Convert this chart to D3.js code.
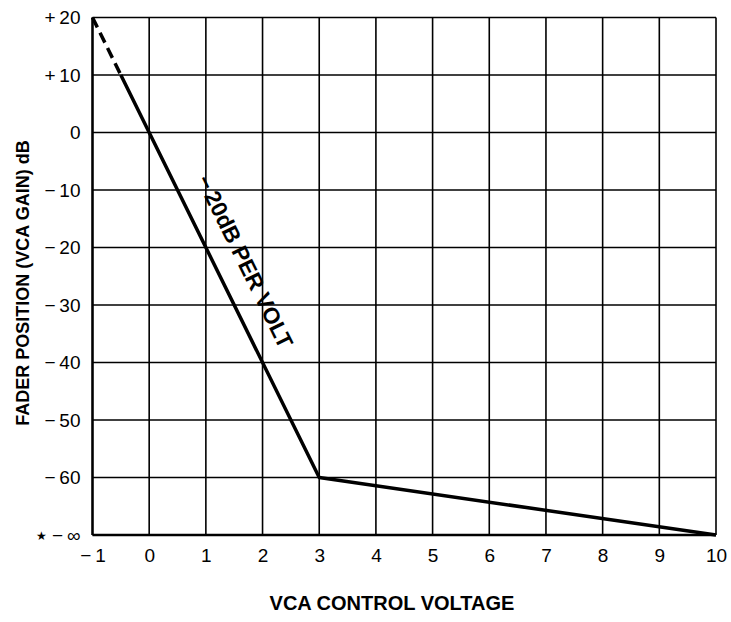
<!DOCTYPE html>
<html>
<head>
<meta charset="utf-8">
<script src="https://cdn.jsdelivr.net/npm/d3@7"></script>
<style>
  body { margin: 0; background: #fff; }
  svg { display: block; }
  text { font-family: "Liberation Sans", Arial, Helvetica, sans-serif; fill: #000; }
</style>
</head>
<body>
<svg id="chart" width="731" height="622"></svg>
<script>
// Control voltage ticks (volts) and gain levels (dB); the bottom row stands for −∞
const voltTicks = [-1, 0, 1, 2, 3, 4, 5, 6, 7, 8, 9, 10];
const voltLabels = ["\u2212\u20091", "0", "1", "2", "3", "4", "5", "6", "7", "8", "9", "10"];
const gainTicks = [20, 10, 0, -10, -20, -30, -40, -50, -60, -70];
const gainLabels = ["+\u200920", "+\u200910", "0", "\u2212\u200910", "\u2212\u200920", "\u2212\u200930", "\u2212\u200940", "\u2212\u200950", "\u2212\u200960", "\u2212\u2009\u221E"];

// Transfer curve: extrapolated (dashed) part, then −20 dB/V down to 3 V, then shallow tail to −∞ at 10 V
const dashedVolts = [-1, -0.5];
const dashedGain = [20, 10];
const solidVolts = [-0.5, 3, 10];
const solidGain = [10, -60, -70];

const FONT = "'Liberation Sans', Arial, Helvetica, sans-serif";
const svg = d3.select("#chart");
const x = d3.scaleLinear().domain([-1, 10]).range([92.5, 716]);
const y = d3.scaleLinear().domain([20, -70]).range([17.5, 535]);

// Grid
const grid = svg.append("g").attr("stroke", "#000").attr("stroke-width", 1.6);
grid.selectAll("line.v").data(voltTicks).join("line")
  .attr("x1", d => x(d)).attr("x2", d => x(d))
  .attr("y1", y(20)).attr("y2", y(-70));
grid.selectAll("line.h").data(gainTicks).join("line")
  .attr("x1", x(-1)).attr("x2", x(10))
  .attr("y1", d => y(d)).attr("y2", d => y(d));
// Heavier left and bottom frame
svg.append("line").attr("x1", x(-1)).attr("x2", x(-1)).attr("y1", y(20)).attr("y2", y(-70))
  .attr("stroke", "#000").attr("stroke-width", 2.4);
svg.append("line").attr("x1", x(-1)).attr("x2", x(10)).attr("y1", y(-70)).attr("y2", y(-70))
  .attr("stroke", "#000").attr("stroke-width", 2.4);

// Axes (labels only)
const xAxis = d3.axisBottom(x).tickValues(voltTicks).tickSize(0).tickPadding(14)
  .tickFormat((d, i) => voltLabels[i]);
const gx = svg.append("g").attr("transform", `translate(0,${y(-70)})`).call(xAxis);
gx.select(".domain").remove();
gx.attr("font-size", 19).attr("font-family", FONT);
gx.selectAll("text").attr("fill", "#000");

const yAxis = d3.axisLeft(y).tickValues(gainTicks).tickSize(0).tickPadding(12)
  .tickFormat((d, i) => gainLabels[i]);
const gy = svg.append("g").attr("transform", `translate(${x(-1)},0)`).call(yAxis);
gy.select(".domain").remove();
gy.attr("font-size", 19).attr("font-family", FONT);
gy.selectAll("text").attr("fill", "#000");

// Star marking the −∞ row
svg.append("text").attr("x", 41).attr("y", y(-70) + 5).attr("font-size", 12)
  .attr("text-anchor", "middle").text("\u2605");

// Curve
const line = d3.line().x(d => x(d[0])).y(d => y(d[1]));
svg.append("path").datum(d3.zip(dashedVolts, dashedGain))
  .attr("d", line).attr("fill", "none").attr("stroke", "#000")
  .attr("stroke-width", 3.5).attr("stroke-dasharray", "11,6");
svg.append("path").datum(d3.zip(solidVolts, solidGain))
  .attr("d", line).attr("fill", "none").attr("stroke", "#000")
  .attr("stroke-width", 3.5).attr("stroke-linejoin", "round");

// Slope annotation, parallel to the steep segment
const ang = Math.atan2(y(-60) - y(0), x(3) - x(0)) * 180 / Math.PI;
svg.append("text").attr("transform", `translate(238,265) rotate(${ang})`)
  .attr("text-anchor", "middle").attr("font-size", 22.5).attr("font-weight", "bold")
  .text("\u2212\u200920dB PER VOLT");

// Axis titles
svg.append("text").attr("x", 392).attr("y", 610).attr("text-anchor", "middle")
  .attr("font-size", 20).attr("font-weight", "bold").text("VCA CONTROL VOLTAGE");
svg.append("text").attr("transform", `translate(29,283) rotate(-90)`)
  .attr("text-anchor", "middle").attr("font-size", 18).attr("font-weight", "bold")
  .text("FADER POSITION (VCA GAIN) dB");
</script>
</body>
</html>
